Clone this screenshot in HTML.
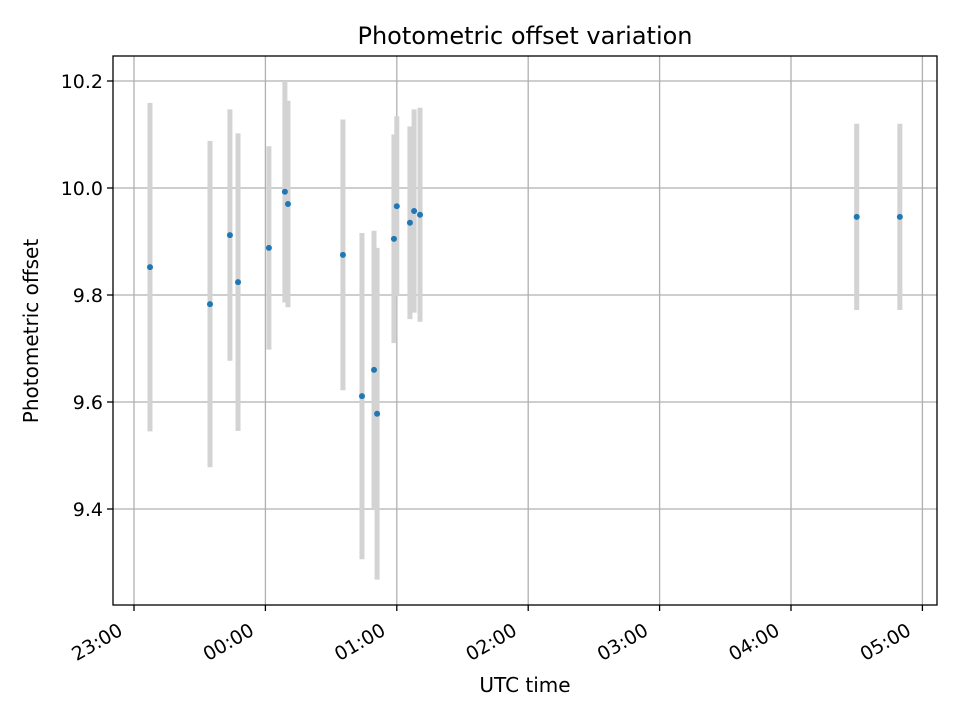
<!DOCTYPE html>
<html><head><meta charset="utf-8"><style>
body{margin:0;background:#fff}
svg{display:block;font-family:"DejaVu Sans","Liberation Sans",sans-serif}
</style></head><body>
<svg id="chart" width="960" height="720"></svg>
<script>
const times=[7.3,34.7,43.8,47.5,61.6,68.9,70.3,95.4,104.1,109.6,111,118.7,120,126,127.9,130.6,330,349.7];
const offsets=[9.852,9.783,9.912,9.824,9.888,9.993,9.970,9.875,9.611,9.660,9.578,9.905,9.966,9.935,9.957,9.950,9.946,9.946];
const errors=[0.307,0.305,0.235,0.278,0.19,0.207,0.193,0.253,0.305,0.26,0.31,0.195,0.168,0.18,0.19,0.2,0.174,0.174];
const yTicks=[9.4,9.6,9.8,10.0,10.2];
const yTickLabels=["9.4","9.6","9.8","10.0","10.2"];
const xTicks=[0,60,120,180,240,300,360];
const xTickLabels=["23:00","00:00","01:00","02:00","03:00","04:00","05:00"];
const L=113,R=937,T=56,B=605;
const xs=m=>134+m*(131.4/60);
const ys=v=>188-(v-10)*535;
const svg=document.getElementById('chart');
const NS='http://www.w3.org/2000/svg';
function mk(t,a,p){const e=document.createElementNS(NS,t);for(const k in a)e.setAttribute(k,a[k]);(p||svg).appendChild(e);return e;}
const grid=mk('g',{});
xTicks.forEach(t=>{mk('line',{x1:xs(t),x2:xs(t),y1:T,y2:B,stroke:'#b0b0b0','stroke-width':1.3},grid);});
yTicks.forEach(t=>{mk('line',{x1:L,x2:R,y1:ys(t),y2:ys(t),stroke:'#b0b0b0','stroke-width':1.3},grid);});
const eb=mk('g',{});
times.forEach((t,i)=>{const l=mk('line',{x1:xs(t),x2:xs(t),y1:ys(offsets[i]+errors[i]),y2:ys(offsets[i]-errors[i]),stroke:'#d3d3d3','stroke-width':5},eb);
});
const pts=mk('g',{});
times.forEach((t,i)=>{const c=mk('circle',{cx:xs(t),cy:ys(offsets[i]),r:3,fill:'#1f77b4'},pts);
});
const fr=mk('rect',{x:L,y:T,width:R-L,height:B-T,fill:'none',stroke:'#000','stroke-width':1.3});

const xa=mk('g',{});
xTicks.forEach((t,i)=>{const x=xs(t);mk('line',{x1:x,x2:x,y1:B,y2:B+6,stroke:'#000','stroke-width':1.3},xa);
const ax=x-10,ay=B+29;
const tx=mk('text',{x:ax,y:ay,'font-size':19,'text-anchor':'end',transform:`rotate(-30 ${ax} ${ay})`},xa);tx.textContent=xTickLabels[i];
});
const ya=mk('g',{});
yTicks.forEach((t,i)=>{const y=ys(t);mk('line',{x1:L-6,x2:L,y1:y,y2:y,stroke:'#000','stroke-width':1.3},ya);
const tx=mk('text',{x:L-10,y:y+7,'font-size':19,'text-anchor':'end'},ya);tx.textContent=yTickLabels[i];
});
const ti=mk('text',{x:525,y:44,'font-size':24,'text-anchor':'middle'});ti.textContent='Photometric offset variation';

const xl=mk('text',{x:525,y:692,'font-size':20,'text-anchor':'middle'});xl.textContent='UTC time';

const yl=mk('text',{x:38,y:331,'font-size':20,'text-anchor':'middle',transform:'rotate(-90 38 331)'});yl.textContent='Photometric offset';

</script>
</body></html>
